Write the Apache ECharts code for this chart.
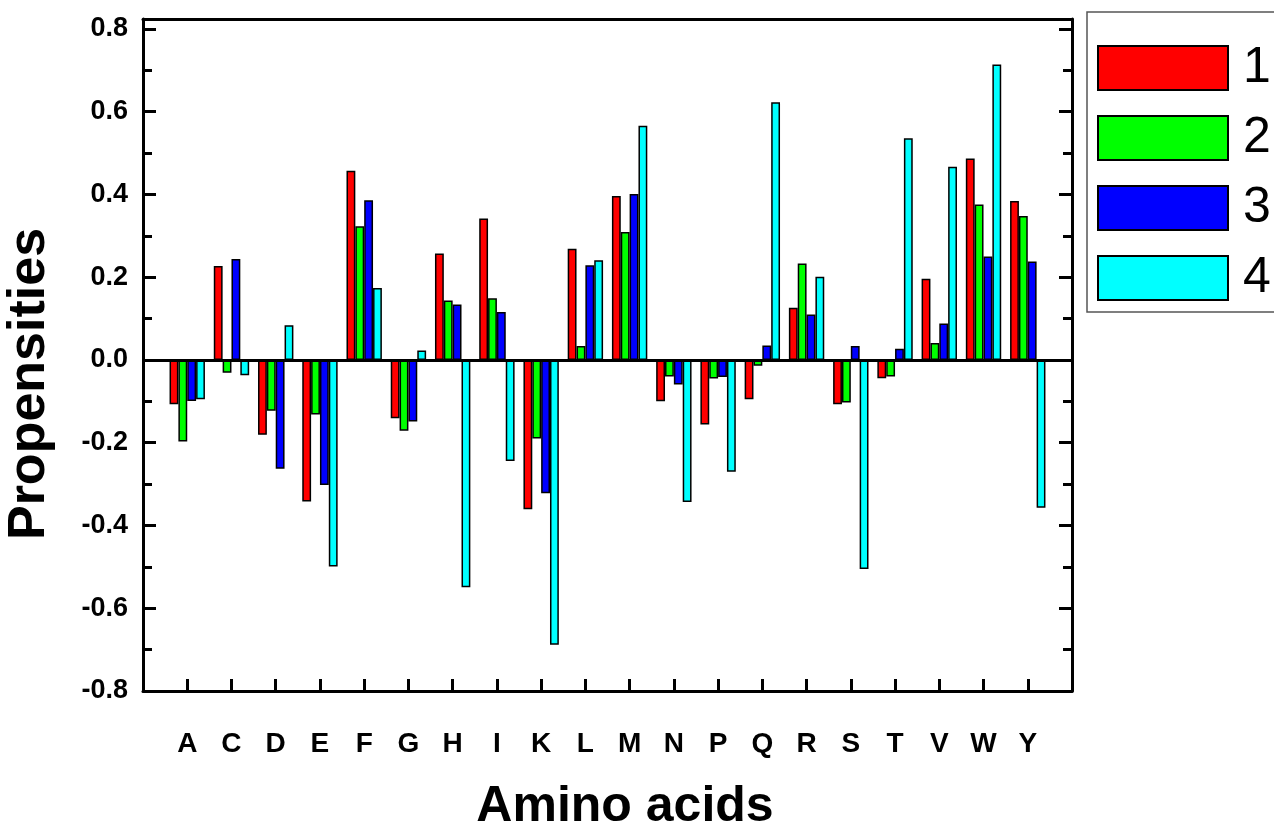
<!DOCTYPE html>
<html>
<head>
<meta charset="utf-8">
<script src="https://cdn.jsdelivr.net/npm/echarts@6/dist/echarts.min.js"></script>
<style>
html,body{margin:0;padding:0;background:#fff;}
#chart{width:1274px;height:823px;}
</style>
</head>
<body>
<div id="chart"></div>
<script>
const categories = ['A','C','D','E','F','G','H','I','K','L','M','N','P','Q','R','S','T','V','W','Y'];
const seriesNames = ['1','2','3','4'];
const s1 = [-0.107, 0.227, -0.181, -0.342, 0.457, -0.141, 0.257, 0.342, -0.361, 0.269, 0.396, -0.100, -0.156, -0.095, 0.126, -0.107, -0.044, 0.196, 0.487, 0.384];
const s2 = [-0.197, -0.031, -0.123, -0.132, 0.323, -0.171, 0.144, 0.149, -0.190, 0.034, 0.309, -0.040, -0.045, -0.014, 0.233, -0.103, -0.040, 0.041, 0.376, 0.348];
const s3 = [-0.099, 0.244, -0.263, -0.302, 0.386, -0.149, 0.134, 0.116, -0.322, 0.229, 0.401, -0.059, -0.041, 0.035, 0.110, 0.034, 0.027, 0.088, 0.250, 0.238];
const s4 = [-0.095, -0.037, 0.084, -0.499, 0.174, 0.023, -0.549, -0.244, -0.688, 0.241, 0.566, -0.343, -0.270, 0.623, 0.201, -0.505, 0.536, 0.467, 0.714, -0.357];
const colors = ['#ff0000', '#00ff00', '#0000ff', '#00ffff'];
const yTicks = [-0.8, -0.6, -0.4, -0.2, 0.0, 0.2, 0.4, 0.6, 0.8];

const FONT = "'Liberation Sans', Arial, Helvetica, sans-serif";
const axisCats = [''].concat(categories, ['']);
const pad = arr => [null].concat(arr, [null]);
const allSeries = [s1, s2, s3, s4];

const chart = echarts.init(document.getElementById('chart'), null, {renderer: 'canvas'});
const option = {
  backgroundColor: '#ffffff',
  animation: false,
  grid: {left: 143, right: 202, top: 19, bottom: 132, containLabel: false},
  legend: {
    orient: 'vertical',
    left: 1097,
    top: 43,
    padding: 0,
    itemWidth: 130,
    itemHeight: 44,
    itemGap: 20,
    icon: 'rect',
    data: seriesNames,
    textStyle: {fontFamily: FONT, fontSize: 50, color: '#000', lineHeight: 44, padding: [0, 0, 0, 10]}
  },
  xAxis: [{
    type: 'category',
    data: axisCats,
    boundaryGap: false,
    position: 'bottom',
    axisLine: {show: true, onZero: false, lineStyle: {color: '#000', width: 3}},
    axisTick: {show: true, inside: true, length: 12, lineStyle: {color: '#000', width: 3},
      interval: (i, v) => v !== ''},
    axisLabel: {interval: 0, margin: 39, fontFamily: FONT, fontSize: 28, fontWeight: 'bold', color: '#000'},
    splitLine: {show: false}
  }, {
    type: 'category',
    data: axisCats,
    boundaryGap: false,
    position: 'top',
    axisLine: {show: true, onZero: false, lineStyle: {color: '#000', width: 3}},
    axisTick: {show: false},
    axisLabel: {show: false},
    splitLine: {show: false}
  }],
  yAxis: [{
    type: 'value',
    min: yTicks[0],
    max: 0.824,
    interval: 0.2,
    position: 'left',
    axisLine: {show: true, onZero: false, lineStyle: {color: '#000', width: 3}},
    axisTick: {show: true, inside: true, length: 13, lineStyle: {color: '#000', width: 3}},
    minorTick: {show: true, splitNumber: 2, length: 9, lineStyle: {color: '#000', width: 3}},
    axisLabel: {showMaxLabel: false, margin: 15, fontFamily: FONT, fontSize: 27, fontWeight: 'bold', color: '#000',
      formatter: v => (Math.abs(v) < 1e-9 ? 0 : v).toFixed(1)},
    splitLine: {show: false}
  }, {
    type: 'value',
    min: yTicks[0],
    max: 0.824,
    interval: 0.2,
    position: 'right',
    axisLine: {show: true, onZero: false, lineStyle: {color: '#000', width: 3}},
    axisTick: {show: true, inside: true, length: 13, lineStyle: {color: '#000', width: 3}},
    minorTick: {show: true, splitNumber: 2, length: 9, lineStyle: {color: '#000', width: 3}},
    axisLabel: {show: false},
    splitLine: {show: false}
  }],
  series: allSeries.map((arr, i) => ({
    name: seriesNames[i],
    type: 'bar',
    data: pad(arr),
    xAxisIndex: 0,
    yAxisIndex: 0,
    barGap: '0%',
    barCategoryGap: '20%',
    itemStyle: {color: colors[i], borderColor: '#000', borderWidth: 1.5},
    emphasis: {disabled: true},
    markLine: i === 0 ? {
      silent: true, symbol: 'none', label: {show: false},
      lineStyle: {color: '#000', width: 3, type: 'solid'},
      data: [{yAxis: 0}]
    } : undefined
  })),
  graphic: [
    {type: 'rect', silent: true, z: -1, shape: {x: 1087, y: 12, width: 220, height: 300},
      style: {fill: '#fff', stroke: '#555', lineWidth: 1.5}},
    {type: 'text', silent: true, x: 625, y: 807,
      style: {text: 'Amino acids', font: "bold 50px " + FONT, fill: '#000', textAlign: 'center', textVerticalAlign: 'middle'}},
    {type: 'text', silent: true, x: 30, y: 384, rotation: Math.PI / 2,
      style: {text: 'Propensities', font: "bold 52px " + FONT, fill: '#000', textAlign: 'center', textVerticalAlign: 'middle'}}
  ]
};
chart.setOption(option);
</script>
</body>
</html>
